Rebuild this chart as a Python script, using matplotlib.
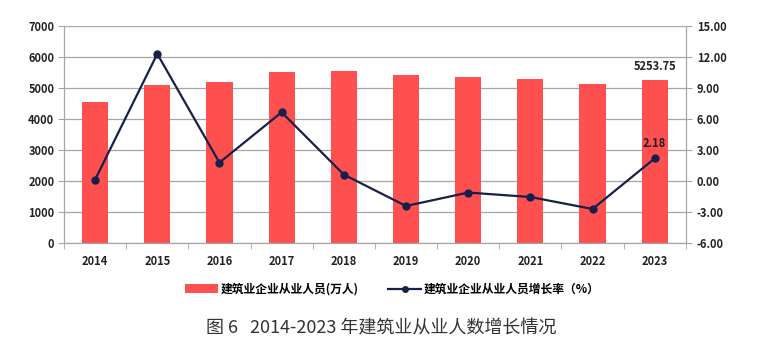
import matplotlib
matplotlib.use("Agg")
import matplotlib.pyplot as plt
from matplotlib.ticker import FixedLocator

plt.rcParams['font.family'] = ['Noto Sans CJK SC', 'DejaVu Sans']

years = ['2014', '2015', '2016', '2017', '2018', '2019', '2020', '2021', '2022', '2023']
workers = [4550, 5093, 5199, 5528, 5550, 5423, 5368, 5285, 5135, 5253.75]
growth = [0.13, 12.3, 1.78, 6.65, 0.62, -2.42, -1.12, -1.55, -2.71, 2.18]

bar_name = '建筑业企业从业人员(万人)'
line_name = '建筑业企业从业人员增长率（%）'
title = '图 6   2014-2023 年建筑业从业人数增长情况'

fig = plt.figure(figsize=(7.62, 3.54), dpi=100)
ax = fig.add_axes([0.084, 0.3136, 0.816, 0.613])
ax2 = ax.twinx()

x = list(range(len(years)))
bars = ax.bar(x, workers, width=0.42, color='#FF5050', zorder=2, label=bar_name)
ax.set_xlim(-0.5, len(years) - 0.5)
ax.set_ylim(0, 7000)
ax.set_yticks(range(0, 7001, 1000))
ax.grid(axis='y', color='#a6a6a6', linewidth=0.9, zorder=0)
ax.set_xticks(x)
ax.set_xticklabels(years)
ax.xaxis.set_minor_locator(FixedLocator([i - 0.5 for i in range(len(years) + 1)]))
ax.tick_params(axis='x', which='major', length=0, pad=9)
ax.tick_params(axis='x', which='minor', length=4, color='#a6a6a6')
ax.tick_params(axis='y', length=4, color='#a6a6a6', pad=3)
for lab in ax.get_xticklabels() + ax.get_yticklabels():
    lab.set_fontweight('bold')
    lab.set_fontsize(8)
    lab.set_color('#222222')
ax.spines['top'].set_visible(False)
ax2.spines['top'].set_visible(False)
for s in ['left', 'bottom', 'right']:
    ax.spines[s].set_color('#a6a6a6')
    ax2.spines[s].set_color('#a6a6a6')

line, = ax2.plot(x, growth, color='#17204a', linewidth=1.6, marker='o',
                 markersize=5, zorder=3, label=line_name)
ax2.set_ylim(-6, 15)
ax2.set_yticks([-6, -3, 0, 3, 6, 9, 12, 15])
ax2.set_yticklabels(['%.2f' % v for v in [-6, -3, 0, 3, 6, 9, 12, 15]])
ax2.tick_params(axis='y', length=4, color='#a6a6a6', pad=4)
for lab in ax2.get_yticklabels():
    lab.set_fontweight('bold')
    lab.set_fontsize(8)
    lab.set_color('#222222')

ax.annotate('5253.75', (x[-1], workers[-1]), xytext=(0, 5), textcoords='offset points',
            ha='center', va='bottom', fontsize=8, fontweight='bold', color='#222222')
ax2.annotate('2.18', (x[-1], growth[-1]), xytext=(0, 6), textcoords='offset points',
             ha='center', va='bottom', fontsize=8, fontweight='bold', color='#222222')

fig.legend([bars, line], [bar_name, line_name], loc='center', bbox_to_anchor=(0.515, 0.183),
           ncol=2, frameon=False, prop={'weight': 'bold', 'size': 8.5},
           handlelength=2.8, columnspacing=2.5, handletextpad=0.2, markerscale=0.8)

fig.text(0.5, 0.073, title, ha='center', va='center', fontsize=13, color='#333333')

fig.savefig('out.png', dpi=100)
